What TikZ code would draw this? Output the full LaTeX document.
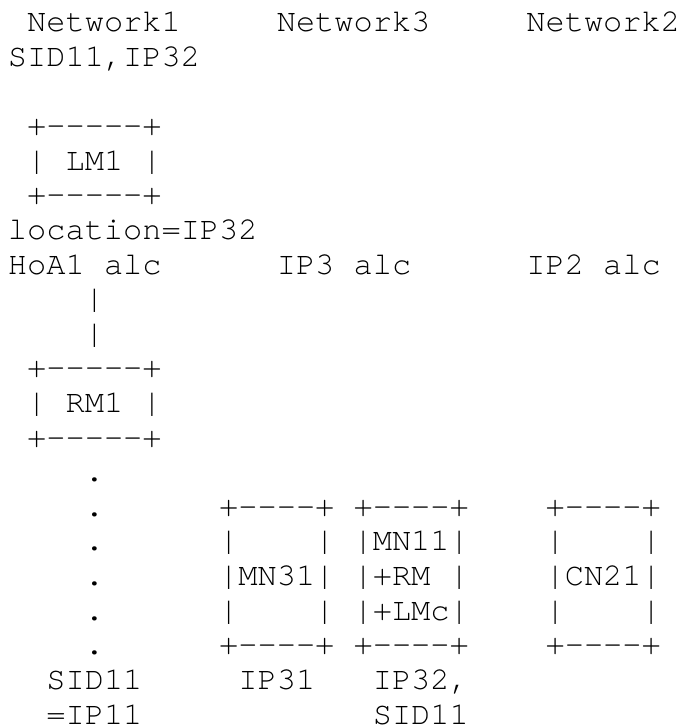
\documentclass[tikz,border=0pt]{standalone}
\usepackage{fontspec}
\setmonofont{TeX Gyre Cursor}
\tikzset{
  asc/.style={anchor=base west, inner sep=0pt, outer sep=0pt, text=black,
    text depth=0pt, font=\ttfamily\fontsize{32pt}{34.6pt}\selectfont}
}
% \cell{row}{col}{text}
\newcommand{\cell}[3]{\node[asc] (c#1x#2) at ({8pt+19.2pt*#2},{696pt-34.6pt*#1}) {#3};}
\begin{document}
\begin{tikzpicture}
\fill[white] (0,0) rectangle (682pt,728pt);
\useasboundingbox (0,0) rectangle (682pt,728pt);
% row 0
\cell{0}{1}{Network1}\cell{0}{14}{Network3}\cell{0}{27}{Network2}
% row 1
\cell{1}{0}{SID11,IP32}
% LM1 box
\cell{3}{1}{+-{}-{}-{}-{}-+}
\cell{4}{1}{|}\cell{4}{3}{LM1}\cell{4}{7}{|}
\cell{5}{1}{+-{}-{}-{}-{}-+}
\cell{6}{0}{location=IP32}
% row 7
\cell{7}{0}{HoA1}\cell{7}{5}{alc}
\cell{7}{14}{IP3}\cell{7}{18}{alc}
\cell{7}{27}{IP2}\cell{7}{31}{alc}
% link
\cell{8}{4}{|}
\cell{9}{4}{|}
% RM1 box
\cell{10}{1}{+-{}-{}-{}-{}-+}
\cell{11}{1}{|}\cell{11}{3}{RM1}\cell{11}{7}{|}
\cell{12}{1}{+-{}-{}-{}-{}-+}
% dotted line
\cell{13}{4}{.}
\cell{14}{4}{.}\cell{15}{4}{.}\cell{16}{4}{.}\cell{17}{4}{.}\cell{18}{4}{.}
% boxes row 14
\cell{14}{11}{+-{}-{}-{}-+}\cell{14}{18}{+-{}-{}-{}-+}\cell{14}{28}{+-{}-{}-{}-+}
% row 15
\cell{15}{11}{|}\cell{15}{16}{|}
\cell{15}{18}{|MN11|}
\cell{15}{28}{|}\cell{15}{33}{|}
% row 16
\cell{16}{11}{|MN31|}
\cell{16}{18}{|+RM}\cell{16}{23}{|}
\cell{16}{28}{|CN21|}
% row 17
\cell{17}{11}{|}\cell{17}{16}{|}
\cell{17}{18}{|+LMc|}
\cell{17}{28}{|}\cell{17}{33}{|}
% row 18
\cell{18}{11}{+-{}-{}-{}-+}\cell{18}{18}{+-{}-{}-{}-+}\cell{18}{28}{+-{}-{}-{}-+}
% labels
\cell{19}{2}{SID11}\cell{19}{12}{IP31}\cell{19}{19}{IP32,}
\cell{20}{2}{=IP11}\cell{20}{19}{SID11}
\end{tikzpicture}
\end{document}
